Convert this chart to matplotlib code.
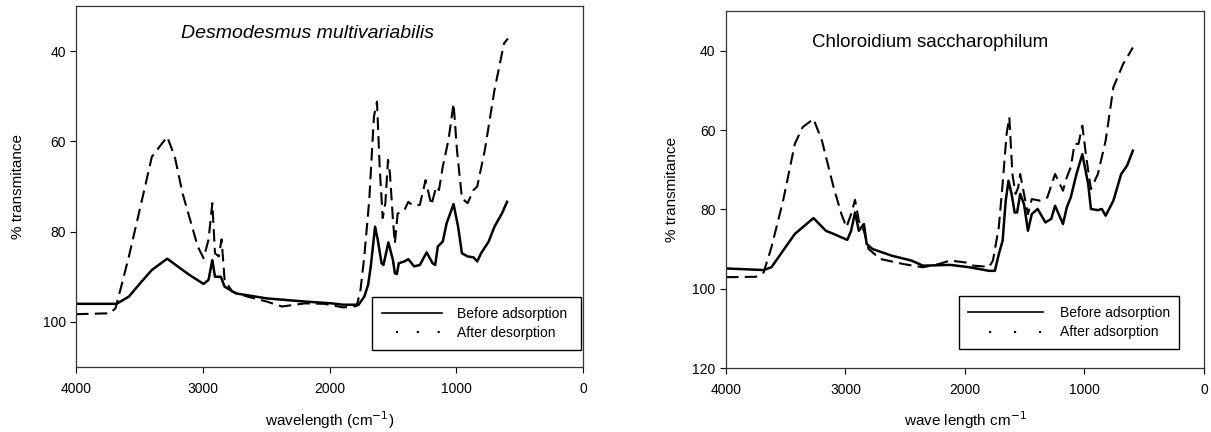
import numpy as np
import matplotlib.pyplot as plt
from matplotlib.lines import Line2D

plt.rcParams['font.family'] = ['Liberation Sans', 'DejaVu Sans']

# Desmodesmus multivariabilis - before adsorption
dm_before_wn = [4000, 3680, 3583, 3493, 3402, 3281, 3160, 3100, 2994, 2955, 2925, 2904,
                2858, 2828, 2738, 2496, 2194, 1983, 1892, 1771, 1726, 1696, 1675, 1641,
                1620, 1590, 1575, 1536, 1500, 1485, 1469, 1454, 1409, 1379, 1333, 1288,
                1234, 1188, 1167, 1146, 1107, 1077, 1022, 986, 956, 911, 865, 835, 805,
                745, 699, 639, 600]
dm_before_t = [96.0, 96.0, 94.4, 91.4, 88.5, 86.0, 88.5, 89.7, 91.6, 90.7, 86.3, 90.0,
               90.0, 92.2, 93.7, 94.8, 95.5, 95.9, 96.2, 96.2, 94.4, 91.8, 87.7, 78.9,
               81.8, 87.0, 87.4, 82.4, 86.3, 89.2, 89.4, 87.0, 86.6, 86.1, 87.7, 87.4,
               84.6, 87.0, 87.4, 83.3, 82.2, 78.2, 73.9, 78.9, 84.8, 85.5, 85.7, 86.6,
               84.8, 82.2, 78.9, 75.9, 73.4]

# Desmodesmus multivariabilis - after desorption
dm_after_wn = [4000, 3734, 3689, 3644, 3583, 3523, 3462, 3402, 3342, 3281, 3221, 3160,
               3100, 3040, 2994, 2955, 2925, 2904, 2874, 2852, 2828, 2768, 2647, 2496,
               2375, 2194, 2043, 1892, 1786, 1756, 1726, 1687, 1650, 1626, 1605, 1581,
               1560, 1539, 1524, 1500, 1485, 1463, 1409, 1379, 1348, 1288, 1243, 1197,
               1158, 1137, 1107, 1062, 1022, 995, 956, 911, 865, 835, 775, 699, 624, 593]
dm_after_t = [98.3, 98.1, 97.0, 92.2, 85.5, 78.2, 70.8, 63.4, 61.2, 59.0, 63.4, 71.5,
              77.4, 83.3, 85.9, 81.8, 73.7, 84.8, 85.5, 81.7, 90.7, 93.3, 94.4, 95.5,
              96.6, 95.9, 96.0, 96.8, 96.5, 92.9, 85.5, 73.0, 54.5, 51.2, 65.6, 77.0,
              73.7, 64.1, 67.1, 77.4, 82.6, 76.0, 75.2, 73.4, 74.1, 74.1, 68.6, 74.1,
              70.0, 70.8, 65.6, 59.7, 51.6, 61.9, 72.6, 73.7, 70.8, 70.0, 61.9, 48.6,
              38.3, 37.2]

# Chloroidium saccharophilum - before adsorption
cs_before_wn = [4000, 3685, 3620, 3522, 3424, 3268, 3164, 3099, 2985, 2953, 2920, 2888,
                2846, 2823, 2774, 2611, 2449, 2351, 2124, 1961, 1798, 1750, 1717, 1685,
                1659, 1636, 1610, 1584, 1564, 1538, 1506, 1473, 1441, 1392, 1327, 1278,
                1246, 1180, 1148, 1115, 1067, 1018, 969, 946, 888, 855, 823, 758, 693,
                644, 595]
cs_before_t = [94.9, 95.3, 94.6, 90.4, 86.2, 82.2, 85.4, 86.2, 87.7, 85.4, 80.8, 85.4,
               83.7, 88.7, 90.0, 91.7, 92.9, 94.2, 94.0, 94.6, 95.5, 95.5, 91.3, 87.9,
               77.8, 72.8, 76.1, 80.8, 80.8, 76.1, 78.7, 85.4, 81.2, 79.9, 83.3, 82.4,
               79.1, 83.7, 79.5, 77.0, 71.1, 66.1, 73.6, 79.9, 80.2, 79.9, 81.6, 77.8,
               71.1, 69.0, 65.2]

# Chloroidium saccharophilum - after adsorption
cs_after_wn = [4000, 3750, 3685, 3620, 3522, 3424, 3359, 3268, 3197, 3099, 3034, 2992,
               2953, 2920, 2888, 2846, 2807, 2709, 2514, 2351, 2221, 2124, 1994, 1928,
               1798, 1766, 1717, 1685, 1652, 1629, 1603, 1577, 1555, 1538, 1506, 1473,
               1441, 1376, 1311, 1246, 1180, 1148, 1115, 1083, 1050, 1018, 985, 946,
               888, 823, 758, 677, 595]
cs_after_t = [97.1, 97.0, 95.9, 89.6, 77.8, 63.5, 59.3, 57.2, 62.7, 74.5, 81.2, 84.5,
              81.2, 77.6, 82.9, 85.4, 90.0, 92.5, 93.8, 94.6, 93.8, 92.9, 93.4, 94.2,
              94.5, 92.9, 84.5, 73.6, 61.0, 56.8, 71.1, 76.1, 74.5, 71.1, 76.1, 81.2,
              77.4, 77.8, 77.0, 71.1, 75.3, 71.9, 69.4, 63.5, 63.5, 58.9, 66.9, 74.9,
              71.1, 62.7, 49.2, 43.4, 39.2]

fig = plt.figure(figsize=(12.11, 4.32), dpi=100)
ax1 = fig.add_axes([0.0628, 0.1505, 0.4187, 0.8356])
ax2 = fig.add_axes([0.5995, 0.1481, 0.3947, 0.8264])

dash = (6, 3)


def style_axes(ax, ylim, yticks):
    ax.set_xlim(4000, 0)
    ax.set_ylim(*ylim)
    ax.set_xticks([4000, 3000, 2000, 1000, 0])
    ax.set_yticks(yticks)
    ax.tick_params(direction='out', length=4, width=0.8, labelsize=10, colors='black')
    ax.tick_params(axis='x', pad=7)
    for s in ax.spines.values():
        s.set_linewidth(0.9)
        s.set_color('#333333')


def place_labels(ax, xy_x, xy_y):
    ax.yaxis.set_label_coords(*xy_y)
    ax.xaxis.set_label_coords(*xy_x)
    ax.yaxis.label.set_va('center')
    ax.xaxis.label.set_va('center')


# Left panel
ax1.plot(dm_before_wn, dm_before_t, color='black', lw=1.8)
ax1.plot(dm_after_wn, dm_after_t, color='black', lw=1.5, dashes=dash)
style_axes(ax1, (110, 30), [40, 60, 80, 100])
ax1.text(0.456, 0.925, 'Desmodesmus multivariabilis', transform=ax1.transAxes,
         ha='center', va='center', fontsize=14, style='italic')
ax1.set_ylabel('% transmitance', fontsize=11)
ax1.set_xlabel('wavelength (cm$^{-1}$)', fontsize=11)
place_labels(ax1, (0.5, -0.147), (-0.115, 0.5))

h1 = [Line2D([], [], color='black', lw=1.2),
      Line2D([], [], color='black', lw=1.5, linestyle=(3.3, (1, 9)))]
ax1.legend(h1, ['Before adsorption', 'After desorption'], loc='lower left',
           bbox_to_anchor=(0.584, 0.047, 0.412, 0.152), mode='expand',
           borderaxespad=0, fontsize=10, handlelength=4.3, handletextpad=1.1,
           labelspacing=0.4, borderpad=0.7, fancybox=False, framealpha=1,
           edgecolor='black')

# Right panel
ax2.plot(cs_before_wn, cs_before_t, color='black', lw=1.8)
ax2.plot(cs_after_wn, cs_after_t, color='black', lw=1.5, dashes=dash)
style_axes(ax2, (120, 30), [40, 60, 80, 100, 120])
ax2.text(0.427, 0.913, 'Chloroidium saccharophilum', transform=ax2.transAxes,
         ha='center', va='center', fontsize=13.5)
ax2.set_ylabel('% transmitance', fontsize=11)
ax2.set_xlabel('wave length cm$^{-1}$', fontsize=11)
place_labels(ax2, (0.5, -0.146), (-0.113, 0.5))

h2 = [Line2D([], [], color='black', lw=1.2),
      Line2D([], [], color='black', lw=1.5, linestyle=(1.9, (1, 11)))]
ax2.legend(h2, ['Before adsorption', 'After adsorption'], loc='lower left',
           bbox_to_anchor=(0.487, 0.053, 0.46, 0.151), mode='expand',
           borderaxespad=0, fontsize=10, handlelength=5.4, handletextpad=1.2,
           labelspacing=0.4, borderpad=0.7, fancybox=False, framealpha=1,
           edgecolor='black')

fig.savefig('out.png', dpi=100)
